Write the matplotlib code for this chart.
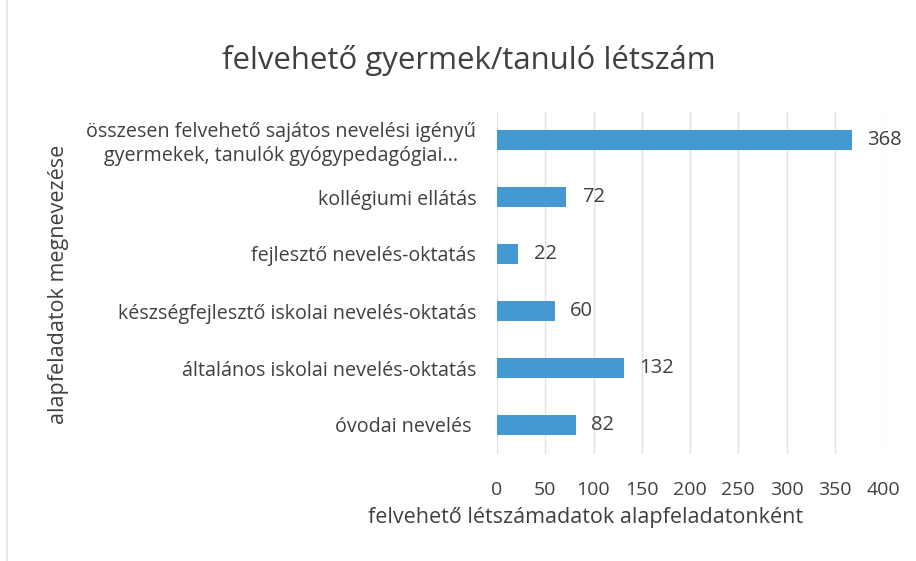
import matplotlib
matplotlib.use("Agg")
import matplotlib.pyplot as plt
from matplotlib.patches import Rectangle

categories = [
    "óvodai nevelés ",
    "általános iskolai nevelés-oktatás",
    "készségfejlesztő iskolai nevelés-oktatás",
    "fejlesztő nevelés-oktatás",
    "kollégiumi ellátás",
    "összesen felvehető sajátos nevelési igényű\ngyermekek, tanulók gyógypedagógiai...",
]
values = [82, 132, 60, 22, 72, 368]
xticks = [0, 50, 100, 150, 200, 250, 300, 350, 400]

title = "felvehető gyermek/tanuló létszám"
xlabel = "felvehető létszámadatok alapfeladatonként"
ylabel = "alapfeladatok megnevezése"

plt.rcParams['font.family'] = ['Open Sans', 'DejaVu Sans']
TXT = "#404040"
BAR = "#4599d2"

W, H = 916, 561
fig = plt.figure(figsize=(W / 100, H / 100), dpi=100)
x0, x1 = 497, 883
y0, y1 = 111.5, 453.5
ax = fig.add_axes([x0 / W, 1 - y1 / H, (x1 - x0) / W, (y1 - y0) / H])

ypos = list(range(len(categories)))
ax.barh(ypos, values, height=0.36, color=BAR, zorder=3)
ax.set_ylim(-0.5, len(categories) - 0.5)
ax.set_xlim(0, 400)
ax.set_xticks(xticks)
ax.set_xticklabels([str(t) for t in xticks], fontsize=14, color=TXT)
ax.set_yticks(ypos)
ax.set_yticklabels(categories, fontsize=14.2, color=TXT, multialignment='center',
                   linespacing=1.25)
ax.tick_params(axis='both', length=0)
ax.tick_params(axis='x', pad=20)
ax.tick_params(axis='y', pad=15)
for s in ax.spines.values():
    s.set_visible(False)
ax.grid(axis='x', color="#e3e3e3", linewidth=1, zorder=0)

for y, v in zip(ypos, values):
    ax.annotate(str(v), xy=(v, y), xytext=(11, 0), textcoords='offset points',
                va='center', ha='left', fontsize=14.5, color=TXT)

fig.text(469 / W, 1 - 60 / H, title, ha='center', va='center', fontsize=22.4, color=TXT)
fig.text(585 / W, 1 - 518 / H, xlabel, ha='center', va='center', fontsize=15.5, color=TXT)
fig.text(59 / W, 1 - 284 / H, ylabel, ha='center', va='center', rotation=90, fontsize=15.5, color=TXT)

fig.patches.append(Rectangle((7 / W, -0.1), 2, 1.2, transform=fig.transFigure,
                             facecolor='none', edgecolor="#e8e8e8", linewidth=1.5))

fig.savefig("out.png", dpi=100)
